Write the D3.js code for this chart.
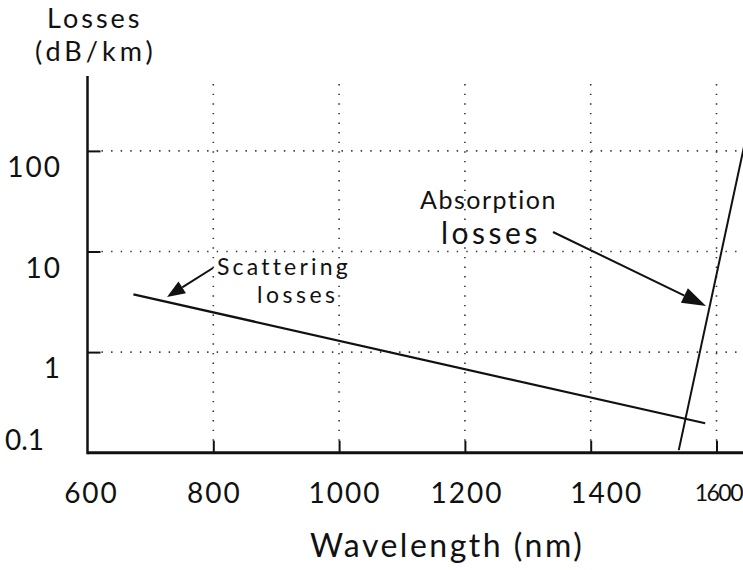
<!DOCTYPE html>
<html>
<head>
<meta charset="utf-8">
<script src="https://cdn.jsdelivr.net/npm/d3@7"></script>
<style>
  body { margin:0; background:white; }
  text { font-family: Lato, "Open Sans", sans-serif; fill:#111; }
</style>
</head>
<body>
<svg id="chart" width="743" height="570"></svg>
<script>
// values
const xTicks=[600, 800, 1000, 1200, 1400, 1600];
const yTicks=[0.1, 1, 10, 100];
const yTickLabels=["0.1", "1", "10", "100"];
const scattering=[
    { wl:673, loss:3.75 },
    { wl:1582, loss:0.196 }
];
const absorption=[
    { wl:1540, loss:0.106 },
    { wl:1645, loss:120 }
];

const svg=d3.select("#chart");
const x=d3.scaleLinear().domain([600,1600]).range([87.5,716.5]);
const y=d3.scaleLog().domain([0.1,1000]).range([452.7,50.3]);
const axisTop=76;
const gridTop=82;
const right=743;

// dotted grid
const grid=svg.append("g").attr("stroke","#333").attr("stroke-width",1.6)
    .attr("stroke-dasharray","1.4,8.2");
xTicks.slice(1).forEach(t=>{
    grid.append("line").attr("x1",x(t)).attr("x2",x(t))
        .attr("y1",y(0.1)-12).attr("y2",gridTop);
});
yTicks.slice(1).forEach(t=>{
    grid.append("line").attr("x1",x(600)+14).attr("x2",right)
        .attr("y1",y(t)).attr("y2",y(t));
});

// axes
const xAxis=d3.axisBottom(x).tickValues(xTicks.slice(1)).tickSize(-12).tickFormat("");
svg.append("g").attr("transform",`translate(0,${y(0.1)})`).call(xAxis)
    .call(g=>g.select(".domain").remove())
    .call(g=>g.selectAll(".tick line").attr("stroke","#111").attr("stroke-width",2));
const yAxis=d3.axisRight(y).tickValues(yTicks.slice(1)).tickSize(13).tickFormat("");
svg.append("g").attr("transform",`translate(${x(600)},0)`).call(yAxis)
    .call(g=>g.select(".domain").remove())
    .call(g=>g.selectAll(".tick line").attr("stroke","#111").attr("stroke-width",2));

svg.append("line").attr("x1",x(600)).attr("x2",right)
    .attr("y1",y(0.1)).attr("y2",y(0.1)).attr("stroke","#111").attr("stroke-width",3);
svg.append("line").attr("x1",x(600)).attr("x2",x(600))
    .attr("y1",y(0.1)+1.5).attr("y2",axisTop).attr("stroke","#111").attr("stroke-width",2.5);

// tick labels (the scan puts them a little off-centre)
const xNudge={600:4, 800:1, 1000:6, 1200:2, 1400:16};
svg.append("g").selectAll("text").data(xTicks).join("text")
    .attr("x",d=>d===1600?right-1:x(d)+xNudge[d])
    .attr("y",d=>d===1600?501:503)
    .attr("text-anchor",d=>d===1600?"end":"middle")
    .attr("font-size",d=>d===1600?23:28)
    .attr("letter-spacing",d=>d===1600?-1.5:2)
    .text(d=>d);
svg.append("g").selectAll("text").data(yTicks).join("text")
    .attr("x",d=>d===0.1?44:62)
    .attr("y",d=>d===0.1?y(d)-3:y(d)+26)
    .attr("text-anchor","end").attr("font-size",28)
    .attr("letter-spacing",d=>d===0.1?0:2)
    .text((d,i)=>yTickLabels[i]);

// axis titles
svg.append("text").attr("x",47).attr("y",28)
    .attr("font-size",27).attr("letter-spacing",3).text("Losses");
svg.append("text").attr("x",35).attr("y",61)
    .attr("font-size",27).attr("letter-spacing",4).text("(dB/km)");
svg.append("text").attr("x",310).attr("y",557)
    .attr("font-size",32).attr("letter-spacing",2.5).text("Wavelength (nm)");

// data lines
const line=d3.line().x(d=>x(d.wl)).y(d=>y(d.loss));
svg.append("path").datum(scattering).attr("d",line)
    .attr("fill","none").attr("stroke","#111").attr("stroke-width",2.2);
svg.append("path").datum(absorption).attr("d",line)
    .attr("fill","none").attr("stroke","#111").attr("stroke-width",2);

// annotations with arrows
function arrow(x1,y1,x2,y2,len,half){
    const a=Math.atan2(y2-y1,x2-x1);
    const bx=x2-len*Math.cos(a), by=y2-len*Math.sin(a);
    svg.append("line").attr("x1",x1).attr("y1",y1).attr("x2",bx).attr("y2",by)
        .attr("stroke","#111").attr("stroke-width",2);
    const px=-Math.sin(a)*half, py=Math.cos(a)*half;
    svg.append("path")
        .attr("d",`M${x2},${y2}L${bx+px},${by+py}L${bx-px},${by-py}Z`)
        .attr("fill","#111");
}
arrow(213,268,167,297,18,7);
arrow(553,232,706,306,24,8);

svg.append("text").attr("x",217).attr("y",275).attr("font-size",23)
    .attr("letter-spacing",3.2).text("Scattering");
svg.append("text").attr("x",257).attr("y",303).attr("font-size",23)
    .attr("letter-spacing",3.5).text("losses");
svg.append("text").attr("x",420).attr("y",209).attr("font-size",25)
    .attr("letter-spacing",1.5).text("Absorption");
svg.append("text").attr("x",441).attr("y",244).attr("font-size",30)
    .attr("letter-spacing",3.5).text("losses");
</script>
</body>
</html>
